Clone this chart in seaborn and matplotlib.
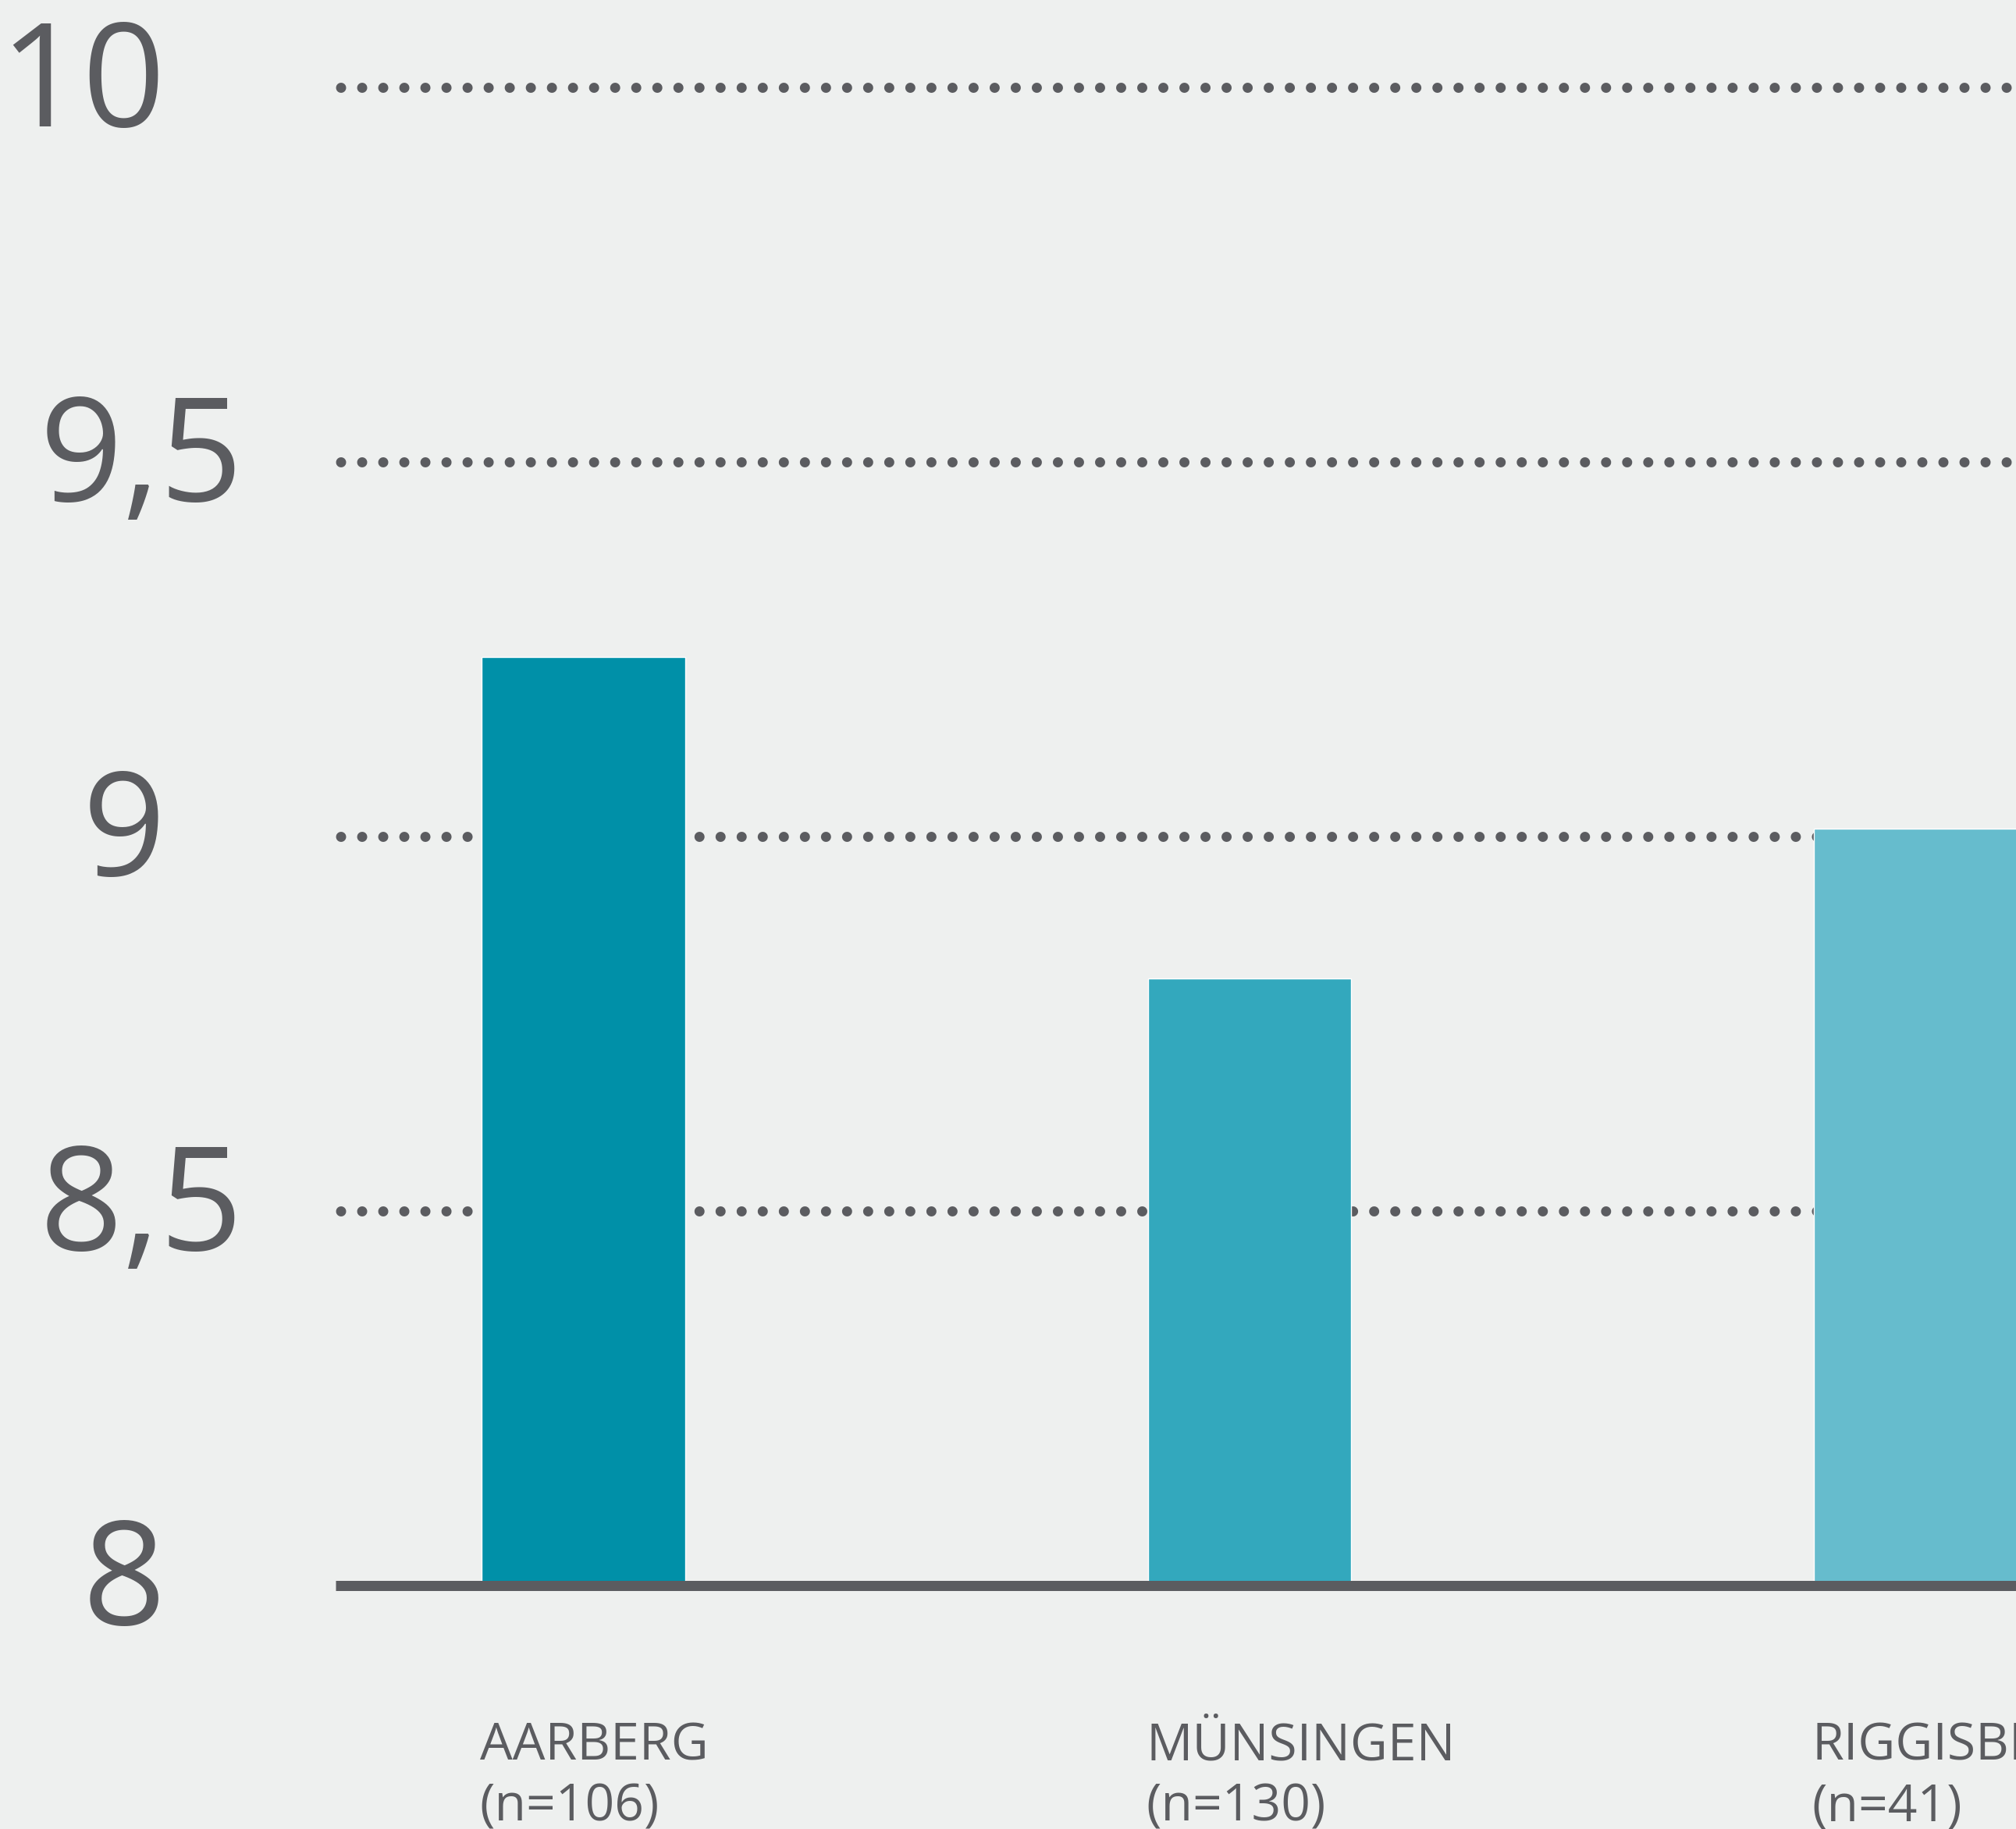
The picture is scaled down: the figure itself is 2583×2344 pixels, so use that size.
import matplotlib
matplotlib.use("Agg")
import matplotlib.pyplot as plt
import matplotlib.transforms as mtransforms
import seaborn as sns
import pandas as pd

# Data
locations = ["AARBERG", "MÜNSINGEN", "RIGGISBERG"]
sample_sizes = ["(n=106)", "(n=130)", "(n=41)"]
scores = [9.24, 8.81, 9.01]
bar_colors = ["#0090A8", "#33A8BD", "#66BCCD"]
y_ticks = [8, 8.5, 9, 9.5, 10]
y_tick_labels = ["8", "8,5", "9", "9,5", "10"]

BG = "#EEF0EF"
INK = "#5B5C60"
DPI = 100
W, H = 2583, 2344

sns.set_theme(style="white")
plt.rcParams["font.family"] = ["Open Sans", "DejaVu Sans"]

fig = plt.figure(figsize=(W / DPI, H / DPI), dpi=DPI, facecolor=BG)
ax = fig.add_axes([430 / W, 312 / H, 1 - 430 / W, 0.86006])
ax.set_facecolor(BG)

df = pd.DataFrame({"location": locations, "score": scores})
bar_width = 0.305
sns.barplot(data=df, x="location", y="score", hue="location",
            palette=bar_colors, saturation=1, width=bar_width,
            legend=False, ax=ax, zorder=3)

ax.set_ylim(8, 10.1)
ax.set_xlim(-0.3721, 2.151)

# dotted reference lines
lw_px = 13
period_px = 27
lw_pt = lw_px * 72 / DPI
for v in y_ticks[1:]:
    ax.axhline(v, color=INK, lw=lw_pt, zorder=1,
               linestyle=(1.577, (0.001, period_px / lw_px)),
               dash_capstyle="round")

# baseline
ax.axhline(8, color=INK, lw=lw_pt, zorder=4, clip_on=False,
           solid_capstyle="butt")

for s in ax.spines.values():
    s.set_visible(False)
ax.set_xticks([])
ax.set_yticks([])
ax.set_xlabel("")
ax.set_ylabel("")

# y tick labels
blend = mtransforms.blended_transform_factory(fig.transFigure, ax.transData)
down50 = mtransforms.ScaledTranslation(0, -50 / DPI, fig.dpi_scale_trans)
for v, lab in zip(y_ticks, y_tick_labels):
    x_right = 312 if "," in lab else 212
    ax.text(x_right / W, v, lab, transform=blend + down50,
            ha="right", va="baseline", fontsize=134, color=INK,
            clip_on=False)

# category labels below the bars
off1 = mtransforms.ScaledTranslation(0, -223 / DPI, fig.dpi_scale_trans)
off2 = mtransforms.ScaledTranslation(0, -301 / DPI, fig.dpi_scale_trans)
for i, (name, n) in enumerate(zip(locations, sample_sizes)):
    x0 = i - bar_width / 2 - 0.003
    ax.text(x0, 8, name, transform=ax.transData + off1, ha="left",
            va="baseline", fontsize=47.5, color=INK, clip_on=False)
    ax.text(x0, 8, n, transform=ax.transData + off2, ha="left",
            va="baseline", fontsize=47.5, color=INK, clip_on=False)

fig.savefig("out.png", dpi=DPI, facecolor=BG)
